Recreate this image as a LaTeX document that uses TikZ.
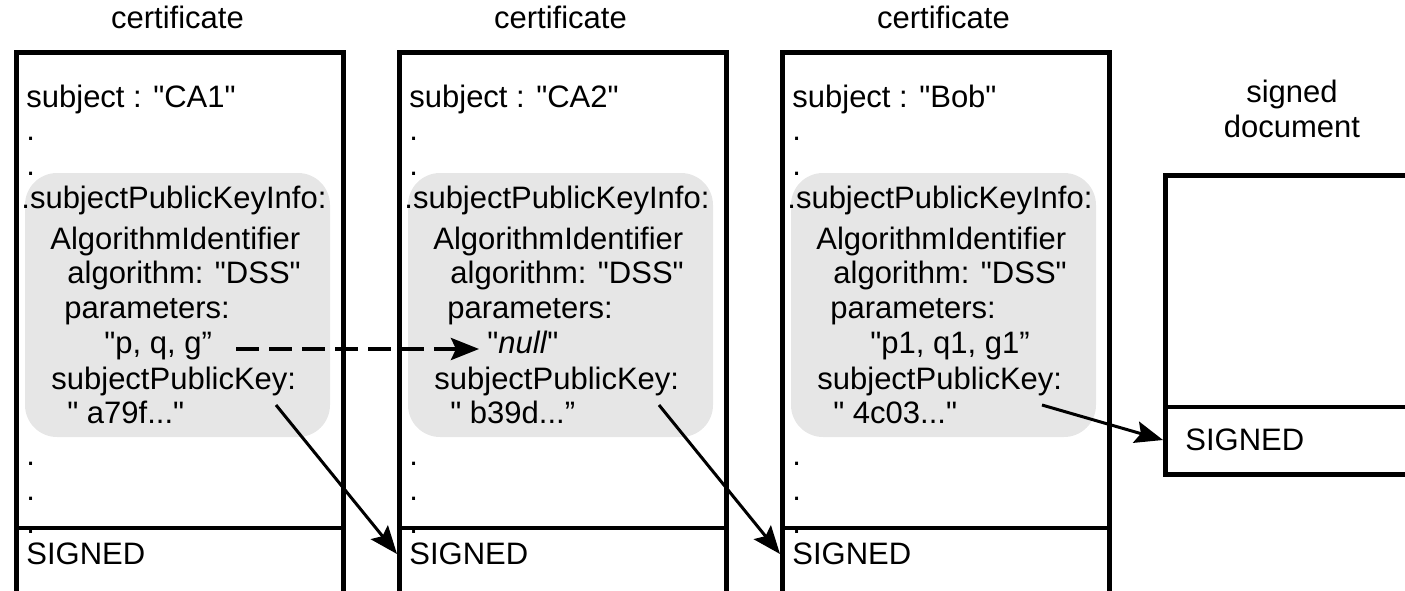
\documentclass[tikz,border=0pt]{standalone}
\usepackage{fontspec}
\setmainfont{Liberation Sans}[Ligatures=TeXOff]
\usetikzlibrary{arrows.meta}

\definecolor{keygray}{RGB}{230,230,230}

\tikzset{
  txt/.style={inner sep=0pt, anchor=base west,
    font=\fontsize{15.5pt}{17.5pt}\selectfont},
  frame/.style={draw=black, line width=2.25pt},
  certframe/.style={frame, rectangle, inner sep=0pt, anchor=north west,
    minimum width=163.5pt, minimum height=300pt},
  keyfill/.style={fill=keygray, rounded corners=16pt},
  tip/.style={-{Stealth[length=14pt,width=11pt,inset=2.5pt]}},
  keyarrow/.style={tip, line width=1.5pt},
  dasharrow/.style={tip, line width=2pt, dash pattern=on 11.5pt off 5pt},
  signedtxt/.style={txt, anchor=west, inner xsep=6pt}
}

% One certificate column: #1 name, #2 horizontal offset, #3 subject,
% #4 parameter value, #5 public key
\newcommand{\certcolumn}[5]{%
  \begin{scope}[shift={(#2,0)}]
    \fill[keyfill] (25,173) rectangle (330,437);
    \node[certframe] (#1) at (14,50) {};
    \node[txt, anchor=base] (#1-title) at (177.5,28) {certificate};
    \node[txt] (#1-subj) at (26,107) {subject : "#3"};
    \node[txt] (#1-d1) at (26,140) {.};
    \node[txt] (#1-d2) at (26,175) {.};
    \node[txt] (#1-spki) at (21,208) {.subjectPublicKeyInfo:};
    \node[txt] (#1-alg) at (50,249) {AlgorithmIdentifier};
    \node[txt] (#1-algv) at (67,283) {algorithm: "DSS"};
    \node[txt] (#1-par) at (64,318) {parameters:};
    \node[txt] (#1-pv) at (104,353) {#4};
    \node[txt] (#1-spk) at (51,389) {subjectPublicKey:};
    \node[txt] (#1-key) at (67,423) {#5};
    \node[txt] (#1-d3) at (26,465) {.};
    \node[txt] (#1-d4) at (26,500) {.};
    \node[txt] (#1-d5) at (26,533) {.};
    \draw[frame] (14,528) -- (341,528);
    \node[signedtxt] (#1-sig) at (14,554) {SIGNED};
    \coordinate (#1-out) at (276,405);
  \end{scope}}

\begin{document}
\begin{tikzpicture}[x=0.5pt,y=-0.5pt]
  \useasboundingbox (0,0) rectangle (1405,590);
  \clip (0,0) rectangle (1405,590);

  \certcolumn{c1}{0}{CA1}{"p, q, g”}{" a79f..."}
  \certcolumn{c2}{383}{CA2}{"\textit{null}"}{" b39d...”}
  \certcolumn{c3}{766}{Bob}{"p1, q1, g1”}{" 4c03..."}

  % signed document
  \node[txt, anchor=base, align=center] (doc-title) at (1292,137) {signed\\document};
  \node[certframe, minimum width=250pt, minimum height=149.5pt] (doc) at (1163,173) {};
  \draw[frame] (1163,407) -- (1700,407);
  \node[signedtxt, inner xsep=11pt] (doc-sig) at (1163,440) {SIGNED};

  % parameters inherited from the issuing CA
  \draw[dasharrow] ([shift={(24,-4)}]c1-pv.base east) -- ([shift={(-8,-4)}]c2-pv.base west);

  % each public key verifies the next signature
  \draw[keyarrow] (c1-out) -- (c2-sig.west);
  \draw[keyarrow] (c2-out) -- (c3-sig.west);
  \draw[keyarrow] (c3-out) -- (doc-sig.west);
\end{tikzpicture}
\end{document}
